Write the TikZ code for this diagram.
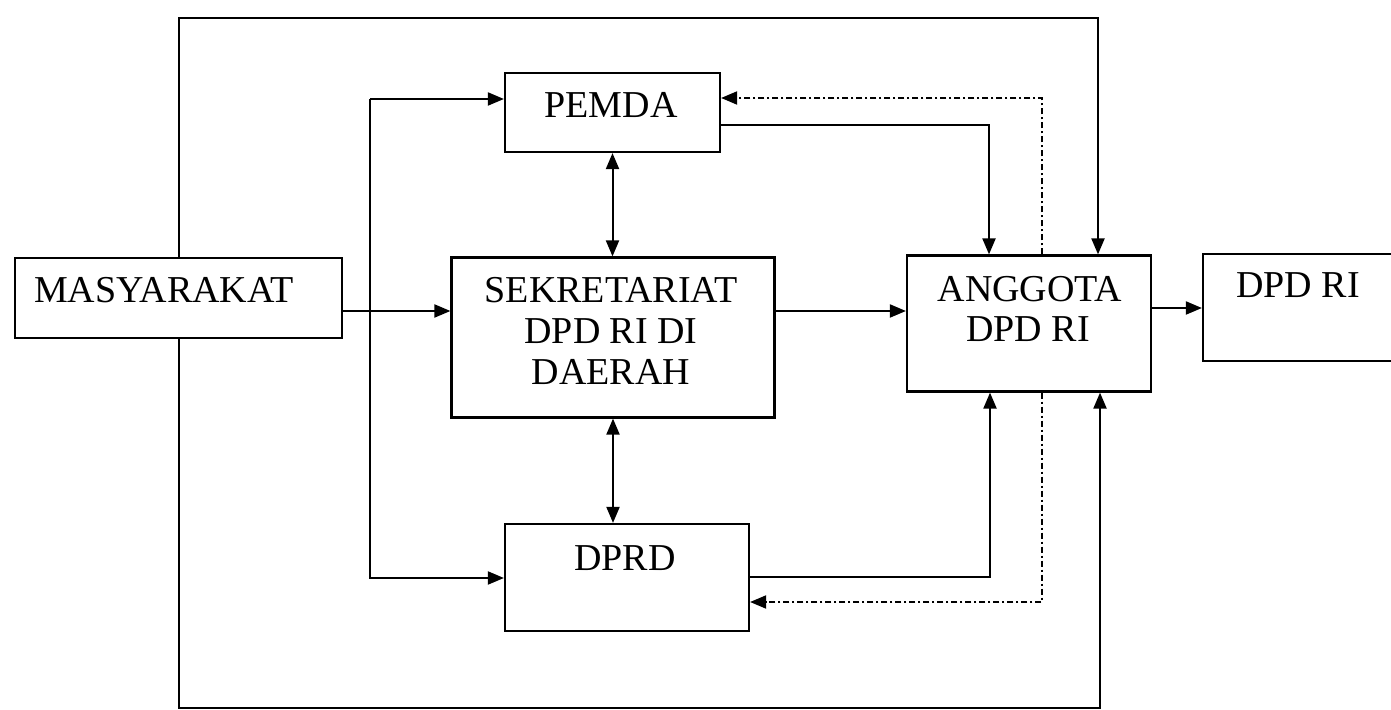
\documentclass[tikz,border=0pt]{standalone}
\usepackage{fontspec}
\setmainfont{Liberation Serif}
\usetikzlibrary{arrows.meta}

\begin{document}
\begin{tikzpicture}[x=0.5pt,y=-0.5pt,
  every node/.style={font=\fontsize{19}{21}\selectfont},
  box/.style={draw,line width=1.1pt,inner sep=0pt},
  lbl/.style={inner sep=0pt,anchor=base},
  arr/.style={line width=1pt,-{Triangle[length=8pt,width=6.5pt]}},
  dbl/.style={line width=1pt,{Triangle[length=8pt,width=6.5pt]}-{Triangle[length=8pt,width=6.5pt]}},
  dd/.style={line width=1pt,dash pattern=on 3pt off 1.5pt on 1pt off 1.5pt,
    -{Triangle[length=8pt,width=6.5pt]}}]
  \useasboundingbox (0,0) rectangle (1391,710);
  % boxes
  \node[box,minimum width=163.5pt,minimum height=40pt] (masy) at (178.5,298) {};
  \node[box,minimum width=161.5pt,minimum height=80pt] (sekr) at (613,337.5) {};
  \node[box,minimum width=107.5pt,minimum height=39.5pt] (pemda) at (612.5,112.5) {};
  \node[box,minimum width=122pt,minimum height=53.5pt] (dprd) at (627,577.5) {};
  \node[box,minimum width=122pt,minimum height=68pt] (angg) at (1029,323.5) {};
  \node[box,minimum width=110pt,minimum height=53.5pt] (dpdri) at (1313,307.5) {};
  % texts
  \foreach \name/\x/\y/\entry in {masyT/164/303/MASYARAKAT,
      sekrT1/611/303/SEKRETARIAT,sekrT2/611/344/DPD RI DI,sekrT3/611/385/DAERAH,
      pemdaT/611/118/PEMDA,dprdT/625/570/DPRD,
      anggT1/1030/302/ANGGOTA,anggT2/1028/342/DPD RI,dpdriT/1298/298/DPD RI}
    \node[lbl] (\name) at (\x,\y) {\entry};
  % bends
  \coordinate (topR) at (1098,18);
  \coordinate (botR) at (1100,708);
  \coordinate (split) at (370,311);
  \coordinate (upL) at (370,99);
  \coordinate (lowL) at (370,578);
  \coordinate (pa) at (989,125);
  \coordinate (da) at (990,577);
  \coordinate (dt) at (1042,98);
  \coordinate (db) at (1042,602);
  \coordinate (ad) at (1150,308);
  % connectors
  \draw[arr] (masy.north) |- (topR) -- (topR |- angg.north);
  \draw[arr] (masy.south) |- (botR) -- (botR |- angg.south);
  \draw[arr] (masy.east |- split) -- (sekr.west |- split);
  \draw[arr] (upL) -- (lowL) -- (dprd.west |- lowL);
  \draw[arr] (upL) -- (pemda.west |- upL);
  \draw[dbl] (pemda.south) -- (pemda.south |- sekr.north);
  \draw[dbl] (sekr.south) -- (sekr.south |- dprd.north);
  \draw[arr] (sekr.east |- split) -- (angg.west |- split);
  \draw[arr] (pemda.east |- pa) -| (angg.north -| pa);
  \draw[arr] (dprd.east |- da) -| (angg.south -| da);
  \draw[dd] (angg.north -| dt) |- (pemda.east |- dt);
  \draw[dd] (angg.south -| db) |- (dprd.east |- db);
  \draw[arr] (angg.east |- ad) -- (dpdri.west |- ad);
\end{tikzpicture}
\end{document}
